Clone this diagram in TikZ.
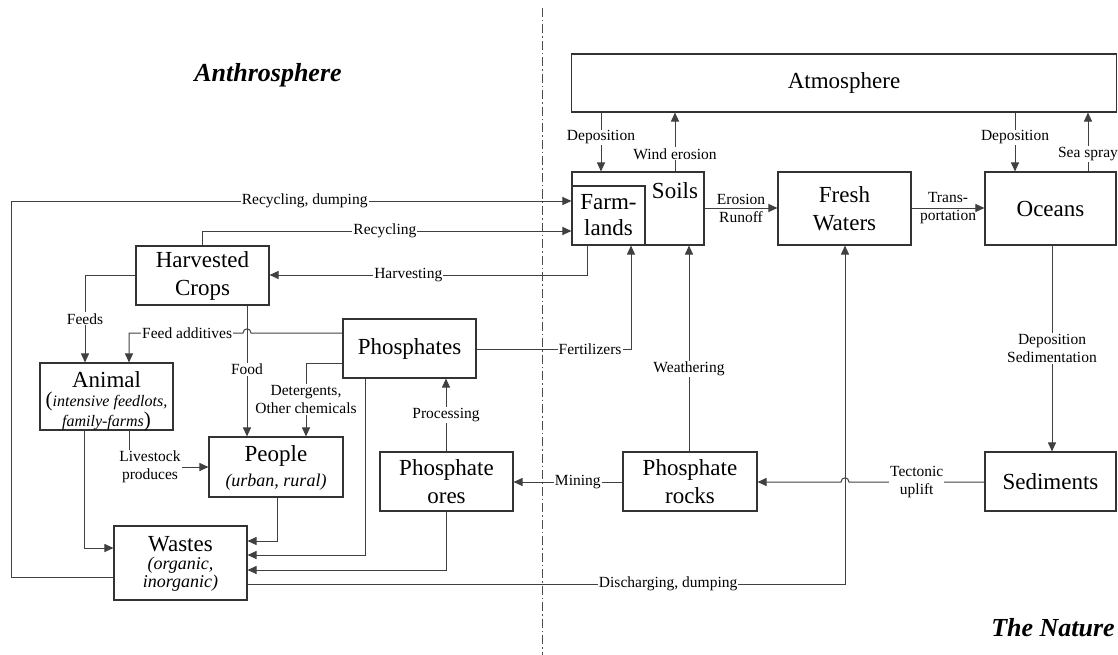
\documentclass[tikz,border=0pt]{standalone}
\usepackage{fontspec}
\setmainfont{Liberation Serif}
\usetikzlibrary{arrows.meta,calc}
\begin{document}
\begin{tikzpicture}[x=1pt,y=-1pt,
  box/.style={draw=black!80, line width=1.1pt, inner sep=0pt, align=center, font=\fontsize{23}{28}\selectfont},
  ln/.style={draw=black!75, line width=1pt},
  arr/.style={ln, -{Triangle[length=9pt,width=8pt]}},
  lab/.style={font=\fontsize{15.5}{18.5}\selectfont, fill=white, inner sep=1pt, align=center},
  labnf/.style={font=\fontsize{15.5}{18}\selectfont, inner sep=0pt, align=center},
  boxtitle/.style={font=\fontsize{23}{28}\selectfont, inner sep=0pt},
  subt/.style={font=\fontsize{18}{18}\selectfont\itshape, align=center, inner sep=0pt},
  bigtitle/.style={font=\fontsize{26}{30}\selectfont\bfseries\itshape}
]
\useasboundingbox (0,0) rectangle (1118,655);

% divider
\coordinate (divtop) at (542,8);
\coordinate (divbot) at (542,655);
\draw[black!70, line width=0.8pt, dash pattern=on 9pt off 3pt on 1.5pt off 3pt] (divtop) -- (divbot);

% titles
\node[bigtitle] (anthro) at (268,75) {Anthrosphere};
\node[bigtitle] (nature) at (1053,628) {The Nature};

% boxes
\node[box, minimum width=545pt, minimum height=58pt] (atm) at (844,83) {Atmosphere};
\node[box, minimum width=132pt, minimum height=73pt] (soils) at (638,208.5) {};
\node[boxtitle] (soilst) at (675,191) {Soils};
\node[box, minimum width=73pt, minimum height=59pt, font=\fontsize{23}{26}\selectfont] (farm) at (608.5,215.5) {Farm-\\lands};
\node[box, minimum width=133pt, minimum height=73pt] (fresh) at (844.5,208.5) {Fresh\\Waters};
\node[box, minimum width=131pt, minimum height=73pt] (oceans) at (1050.5,208.5) {Oceans};
\node[box, minimum width=131pt, minimum height=59pt] (sed) at (1050.5,481.5) {Sediments};
\node[box, minimum width=134pt, minimum height=59pt] (rocks) at (690,481.5) {Phosphate\\rocks};
\node[box, minimum width=133pt, minimum height=59pt] (ores) at (446.5,481.5) {Phosphate\\ores};
\node[box, minimum width=133pt, minimum height=59pt] (phos) at (409.5,348.5) {Phosphates};
\node[box, minimum width=133pt, minimum height=59pt] (hc) at (202.5,275.5) {Harvested\\Crops};
\node[box, minimum width=133pt, minimum height=67pt] (animal) at (106.5,396.5) {};
\node[boxtitle] (animalt) at (106.5,380) {Animal};
\node[subt, font=\fontsize{16}{18}\selectfont\itshape] (animals) at (106.5,411)
  {{\upshape\fontsize{21}{18}\selectfont(}intensive feedlots,\\family-farms{\upshape\fontsize{21}{18}\selectfont)}};
\node[box, minimum width=134pt, minimum height=60pt] (people) at (276,467) {};
\node[boxtitle] (peoplet) at (276,456) {People};
\node[subt] (peoples) at (276,482) {(urban, rural)};
\node[box, minimum width=133pt, minimum height=74pt] (wastes) at (180.5,563) {};
\node[boxtitle] (wastest) at (180.5,544) {Wastes};
\node[subt] (wastess) at (180.5,574) {(organic,\\inorganic)};

% x positions
\coordinate (xdepL) at (601,0);
\coordinate (xwind) at (675,0);
\coordinate (xdepR) at (1015,0);
\coordinate (xsea) at (1088,0);
\coordinate (xsed) at (1052,0);
\coordinate (xfresh) at (845,0);
\coordinate (xweath) at (689,0);
\coordinate (xfert) at (631,0);
\coordinate (xharv) at (587,0);
\coordinate (xproc) at (446,0);
\coordinate (xrec) at (202,0);
\coordinate (xleft) at (11,0);
\coordinate (xfeeds) at (85,0);
\coordinate (xfa) at (129,0);
\coordinate (xfood) at (247,0);
\coordinate (xdet) at (306,0);
\coordinate (xlive) at (129,0);
\coordinate (xaw) at (84,0);
\coordinate (xpw) at (277,0);
\coordinate (xphw) at (365,0);
\coordinate (xow) at (446,0);
% y positions
\coordinate (yrd) at (0,201);
\coordinate (yrec) at (0,231);
\coordinate (yharv) at (0,275);
\coordinate (yfa) at (0,333);
\coordinate (yfert) at (0,349);
\coordinate (ydet) at (0,363);
\coordinate (ylive) at (0,467);
\coordinate (yaw) at (0,548);
\coordinate (ypw) at (0,541);
\coordinate (yphw) at (0,555);
\coordinate (yow) at (0,570);
\coordinate (ywl) at (0,577);
\coordinate (ydis) at (0,584);
\coordinate (ytec) at (0,482);
\coordinate (yrun) at (0,208);

% nature side
\draw[arr] (atm.south -| xdepL) -- node[lab,pos=0.42]{Deposition} (soils.north -| xdepL);
\draw[arr] (soils.north -| xwind) -- node[lab,pos=0.3]{Wind erosion} (atm.south -| xwind);
\draw[arr] (atm.south -| xdepR) -- node[lab,pos=0.42]{Deposition} (oceans.north -| xdepR);
\draw[arr] (oceans.north -| xsea) -- node[lab,pos=0.3]{Sea spray} (atm.south -| xsea);
\draw[arr] (soils.east |- yrun) -- node[labnf]{Erosion\\Runoff} (fresh.west |- yrun);
\draw[arr] (fresh.east |- yrun) -- node[labnf]{Trans-\\portation} (oceans.west |- yrun);
\draw[arr] (oceans.south -| xsed) -- node[lab]{Deposition\\Sedimentation} (sed.north -| xsed);
\draw[arr] (sed.west |- ytec) -- node[lab,pos=0.5]{Tectonic\\uplift} (849,482)
  .. controls (849,476.5) and (841,476.5) .. (841,482) -- (rocks.east |- ytec);
\draw[arr] (rocks.west |- ytec) -- node[lab,pos=0.41]{Mining} (ores.east |- ytec);
\draw[arr] (rocks.north -| xweath) -- node[lab,pos=0.4]{Weathering} (soils.south -| xweath);
\draw[arr] (wastes.east |- ydis) -- node[lab,pos=0.704]{Discharging, dumping} (xfresh |- ydis) -- (fresh.south -| xfresh);

% anthrosphere side
\draw[arr] (ores.north -| xproc) -- node[lab]{Processing} (phos.south -| xproc);
\draw[arr] (phos.east |- yfert) -- node[lab,pos=0.735]{Fertilizers} (xfert |- yfert) -- (farm.south -| xfert);
\draw[arr] (farm.south -| xharv) -- (xharv |- yharv) -- node[lab,pos=0.563]{Harvesting} (hc.east |- yharv);
\draw[arr] (hc.north -| xrec) -- (xrec |- yrec) -- node[lab,pos=0.495]{Recycling} (farm.west |- yrec);
\draw[arr] (wastes.west |- ywl) -- (xleft |- ywl) -- (xleft |- yrd) -- node[lab,pos=0.524]{Recycling, dumping} (farm.west |- yrd);
\draw[arr] (hc.west |- yharv) -- (xfeeds |- yharv) -- node[lab,pos=0.5]{Feeds} (animal.north -| xfeeds);
\draw[arr] (phos.west |- yfa) -- (251,333) .. controls (251,327.5) and (243,327.5) .. (243,333)
  -- node[lab,pos=0.49]{Feed additives} (xfa |- yfa) -- (animal.north -| xfa);
\draw[arr] (hc.south -| xfood) -- node[lab,pos=0.49]{Food} (people.north -| xfood);
\draw[arr] (phos.west |- ydet) -- (xdet |- ydet) -- node[lab,pos=0.5]{Detergents,\\Other chemicals} (people.north -| xdet);
\draw[arr] (animal.south -| xlive) -- (xlive |- ylive) node[lab,xshift=21pt]{Livestock\\produces} -- (people.west |- ylive);
\draw[arr] (animal.south -| xaw) -- (xaw |- yaw) -- (wastes.west |- yaw);
\draw[arr] (people.south -| xpw) -- (xpw |- ypw) -- (wastes.east |- ypw);
\draw[arr] (phos.south -| xphw) -- (xphw |- yphw) -- (wastes.east |- yphw);
\draw[arr] (ores.south -| xow) -- (xow |- yow) -- (wastes.east |- yow);
\end{tikzpicture}
\end{document}
